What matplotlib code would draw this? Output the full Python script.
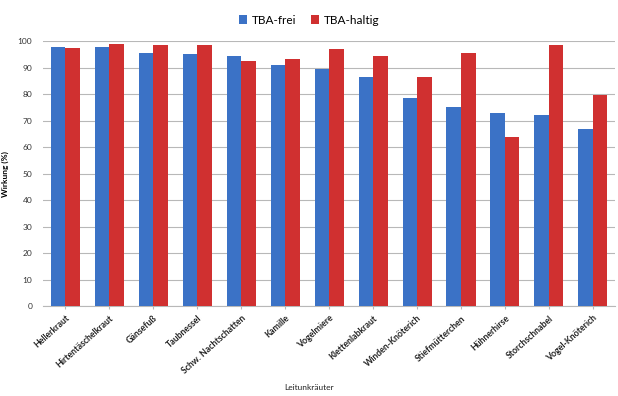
import matplotlib
matplotlib.use("Agg")
import matplotlib.pyplot as plt
import numpy as np

# Werte
unkraeuter = ["Hellerkraut", "Hirtentäschelkraut", "Gänsefuß", "Taubnessel",
              "Schw. Nachtschatten", "Kamille", "Vogelmiere", "Klettenlabkraut",
              "Winden-Knöterich", "Stiefmütterchen", "Hühnerhirse",
              "Storchschnabel", "Vogel-Knöterich"]
tba_frei = [97.8, 97.8, 95.6, 95.1, 94.3, 90.9, 89.6, 86.5, 78.4, 75.2, 73.0, 72.2, 67.0]
tba_haltig = [97.5, 99.0, 98.5, 98.5, 92.5, 93.1, 96.9, 94.4, 86.3, 95.6, 64.0, 98.5, 79.5]

plt.rcParams['font.family'] = ['Lato', 'DejaVu Sans']

fig = plt.figure(figsize=(6.18, 3.96), dpi=100)
ax = fig.add_axes([0.07, 0.227, 0.925, 0.669])

x = np.arange(len(unkraeuter))
w = 0.33
ax.bar(x - w / 2, tba_frei, w, color='#3b72c6', label='TBA-frei', zorder=3)
ax.bar(x + w / 2, tba_haltig, w, color='#d03030', label='TBA-haltig', zorder=3)

ax.set_xlim(-0.5, len(unkraeuter) - 0.5)
ax.set_ylim(0, 100)
ax.set_yticks(range(0, 101, 10))
ax.grid(axis='y', color='#b8b8b8', linewidth=0.8, zorder=0)
ax.tick_params(axis='y', length=0, labelsize=6, colors='#333333', pad=8)
ax.tick_params(axis='x', length=2, color='#b8b8b8')

ax.set_xticks(x)
ax.set_xticklabels(unkraeuter, rotation=42, ha='right', rotation_mode='anchor',
                   fontsize=6.3, fontweight='bold', color='#222222')

for s in ['top', 'right', 'left']:
    ax.spines[s].set_visible(False)
ax.spines['bottom'].set_color('#b8b8b8')

ax.set_ylabel('Wirkung (%)', fontsize=6, fontweight='bold', labelpad=6)
fig.text(0.5, 0.015, 'Leitunkräuter', fontsize=6, ha='center', color='#222222')

fig.legend(loc='upper center', bbox_to_anchor=(0.5, 0.99), ncol=2, frameon=False,
           fontsize=8.5, handlelength=0.7, handleheight=0.7, handletextpad=0.4,
           columnspacing=1.2)

fig.savefig('out.png', dpi=100, facecolor='white')
